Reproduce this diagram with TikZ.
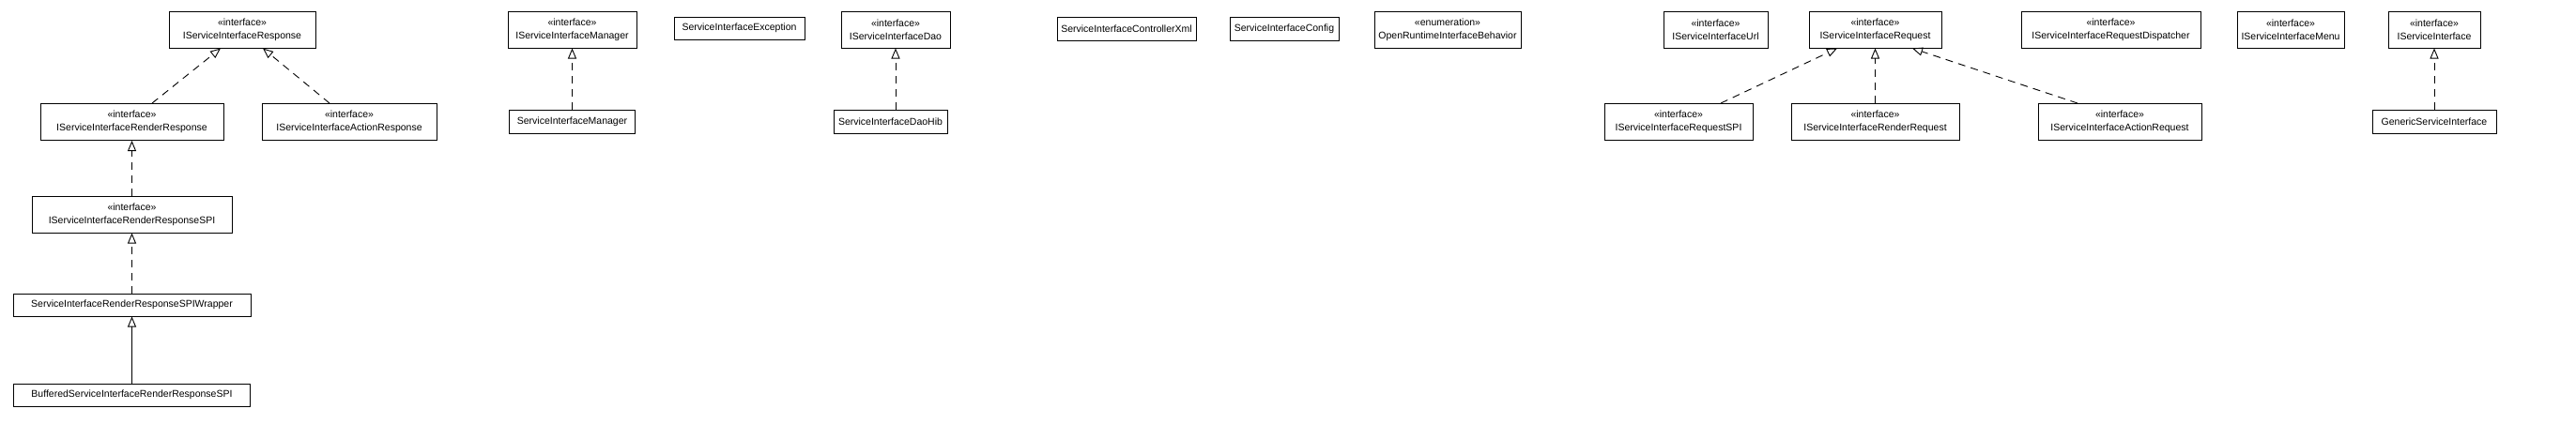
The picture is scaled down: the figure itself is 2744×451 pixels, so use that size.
\documentclass[tikz,border=0pt]{standalone}
\usepackage{fontspec}
\setmainfont{Liberation Sans}
\usetikzlibrary{arrows.meta}
\begin{document}
\begin{tikzpicture}[x=1pt,y=-1pt,
  box/.style={draw=black,fill=white,line width=1pt,inner sep=0pt,align=center,
    font=\fontsize{10.5}{14}\selectfont},
  two/.style={box,minimum height=39pt},
  one/.style={box,minimum height=25pt},
  impl/.style={line width=0.9pt,dash pattern=on 8pt off 6pt,
    -{Triangle[open,length=11pt,width=9pt,line width=0.9pt]}},
  ext/.style={line width=0.9pt,
    -{Triangle[open,length=11pt,width=9pt,line width=0.9pt]}}]
\useasboundingbox (0,0) rectangle (2744,451);
% left tree
\node[two,minimum width=156pt] (resp) at (258,31.5) {«interface»\\IServiceInterfaceResponse};
\node[two,minimum width=195pt] (rr) at (140.5,130) {«interface»\\IServiceInterfaceRenderResponse};
\node[two,minimum width=186pt] (ar) at (372,130) {«interface»\\IServiceInterfaceActionResponse};
\node[two,minimum width=213pt] (rrspi) at (140.5,228.5) {«interface»\\IServiceInterfaceRenderResponseSPI};
\node[one,minimum width=253pt,minimum height=24pt] (wrap) at (140.5,325) {ServiceInterfaceRenderResponseSPIWrapper};
\node[one,minimum width=252pt,minimum height=24pt] (buf) at (140.5,421) {BufferedServiceInterfaceRenderResponseSPI};
% manager
\node[two,minimum width=137pt] (mgri) at (609.5,31.5) {«interface»\\IServiceInterfaceManager};
\node[one,minimum width=134pt] (mgr) at (609.5,129.5) {ServiceInterfaceManager};
\node[one,minimum width=139pt,minimum height=24pt] (exc) at (787.5,30) {ServiceInterfaceException};
% dao
\node[two,minimum width=116pt] (daoi) at (954,31.5) {«interface»\\IServiceInterfaceDao};
\node[one,minimum width=121pt] (dao) at (948.5,129.5) {ServiceInterfaceDaoHib};
\node[one,minimum width=148pt] (ctrl) at (1200,30.5) {ServiceInterfaceControllerXml};
\node[one,minimum width=116pt] (cfg) at (1368,30.5) {ServiceInterfaceConfig};
\node[two,minimum width=156pt] (enum) at (1542,31.5) {«enumeration»\\OpenRuntimeInterfaceBehavior};
\node[two,minimum width=111pt] (url) at (1827.5,31.5) {«interface»\\IServiceInterfaceUrl};
% request
\node[two,minimum width=141pt] (req) at (1997.5,31.5) {«interface»\\IServiceInterfaceRequest};
\node[two,minimum width=158pt] (reqspi) at (1788,130) {«interface»\\IServiceInterfaceRequestSPI};
\node[two,minimum width=179pt] (rreq) at (1997.5,130) {«interface»\\IServiceInterfaceRenderRequest};
\node[two,minimum width=174pt] (areq) at (2258,130) {«interface»\\IServiceInterfaceActionRequest};
\node[two,minimum width=191pt] (disp) at (2248.5,31.5) {«interface»\\IServiceInterfaceRequestDispatcher};
\node[two,minimum width=114pt] (menu) at (2440,31.5) {«interface»\\IServiceInterfaceMenu};
\node[two,minimum width=98pt] (isi) at (2593,31.5) {«interface»\\IServiceInterface};
\node[one,minimum width=132pt] (gen) at (2593,129.5) {GenericServiceInterface};
% connectors
\draw[impl] ([xshift=21.5pt]rr.north) -- ([xshift=-23pt]resp.south);
\draw[impl] ([xshift=-21pt]ar.north) -- ([xshift=22pt]resp.south);
\draw[impl] (rrspi.north) -- (rr.south);
\draw[impl] (wrap.north) -- (rrspi.south);
\draw[ext] (buf.north) -- (wrap.south);
\draw[impl] (mgr.north) -- (mgri.south);
\draw[impl] (daoi.south |- dao.north) -- (daoi.south);
\draw[impl] ([xshift=45pt]reqspi.north) -- ([xshift=-40.5pt]req.south);
\draw[impl] (rreq.north) -- (req.south);
\draw[impl] ([xshift=-45pt]areq.north) -- ([xshift=39.5pt]req.south);
\draw[impl] (gen.north) -- (isi.south);
\end{tikzpicture}
\end{document}
